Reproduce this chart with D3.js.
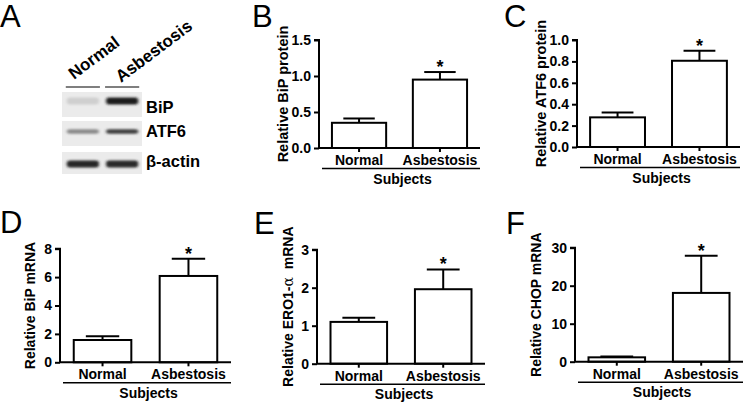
<!DOCTYPE html>
<html><head><meta charset="utf-8">
<script src="https://cdn.jsdelivr.net/npm/d3@7"></script>
<style>
html,body{margin:0;padding:0;background:#fff;}
svg{display:block;font-family:"Liberation Sans",Arial,sans-serif;}
</style></head>
<body>
<svg id="fig" width="745" height="407"></svg>
<script>
// ---- data ----
const groups = ["Normal", "Asbestosis"];
const xTitle = "Subjects";

const bipProtein = [0.35, 0.95];
const bipProteinErr = [0.06, 0.105];
const bipProteinTicks = [0, 0.5, 1.0, 1.5];

const atf6Protein = [0.277, 0.806];
const atf6ProteinErr = [0.045, 0.094];
const atf6ProteinTicks = [0, 0.2, 0.4, 0.6, 0.8, 1.0];

const bipMrna = [1.57, 6.08];
const bipMrnaErr = [0.26, 1.22];
const bipMrnaTicks = [0, 2, 4, 6, 8];

const ero1Mrna = [1.10, 1.96];
const ero1MrnaErr = [0.11, 0.52];
const ero1MrnaTicks = [0, 1, 2, 3];

const chopMrna = [1.15, 18.1];
const chopMrnaErr = [0.25, 9.8];
const chopMrnaTicks = [0, 10, 20, 30];

const significant = [false, true];

// western blot (band darkness per lane)
const blotRows = ["BiP", "ATF6", "β-actin"];
const bipBands = [0.13, 0.95];
const atf6Bands = [0.45, 0.8];
const actinBands = [0.92, 0.9];

const svg = d3.select("#fig");
const defs = svg.append("defs");
defs.append("filter").attr("id", "blur").attr("x", "-20%").attr("y", "-100%").attr("width", "140%").attr("height", "300%")
  .append("feGaussianBlur").attr("stdDeviation", "1.6 1.1");

// ---- panel letters ----
const letters = [["A", 0, 27], ["B", 252, 27], ["C", 504, 27], ["D", 0, 233], ["E", 254, 234], ["F", 506, 234]];
svg.selectAll("text.letter").data(letters).enter().append("text")
  .attr("class", "letter").attr("x", d => d[1]).attr("y", d => d[2])
  .attr("font-size", 31).attr("fill", "#000").text(d => d[0]);

// ---- bar panel ----
function barPanel(o) {
  const g = svg.append("g");
  const y = d3.scaleLinear().domain(o.domain).range([o.y0, o.yTop]);
  const x = d3.scaleBand().domain(groups).range([o.ax, o.xEnd]).paddingInner(0.33).paddingOuter(0.16);
  const bw = x.bandwidth();

  g.selectAll("rect.bar").data(groups).enter().append("rect")
    .attr("x", d => x(d)).attr("width", bw)
    .attr("y", (d, i) => y(o.values[i])).attr("height", (d, i) => o.y0 - y(o.values[i]))
    .attr("fill", "#fff").attr("stroke", "#000").attr("stroke-width", 2);

  const cap = bw * 0.58;
  groups.forEach((gname, i) => {
    const cx = x(gname) + bw / 2;
    g.append("line").attr("x1", cx).attr("x2", cx)
      .attr("y1", y(o.values[i])).attr("y2", y(o.values[i] + o.errs[i]))
      .attr("stroke", "#000").attr("stroke-width", 2);
    g.append("line").attr("x1", cx - cap / 2).attr("x2", cx + cap / 2)
      .attr("y1", y(o.values[i] + o.errs[i])).attr("y2", y(o.values[i] + o.errs[i]))
      .attr("stroke", "#000").attr("stroke-width", 2);
    if (significant[i]) {
      g.append("text").attr("x", cx).attr("y", y(o.values[i] + o.errs[i]) + 1)
        .attr("text-anchor", "middle").attr("font-size", 18).attr("font-weight", "bold").text("*");
    }
  });

  const yAxis = d3.axisLeft(y).tickValues(o.ticks).tickSize(5).tickPadding(3).tickFormat(d3.format(o.fmt));
  const ya = g.append("g").attr("transform", `translate(${o.ax},0)`).call(yAxis);
  ya.select(".domain").attr("stroke-width", 2).attr("d", `M-5,${y(o.domain[1])}H0V${o.y0}`);
  ya.selectAll(".tick line").attr("stroke-width", 2);
  ya.selectAll(".tick text").attr("font-size", 14).attr("font-weight", "bold").attr("font-family", "Liberation Sans, Arial, sans-serif");

  const xAxis = d3.axisBottom(x).tickSize(4).tickPadding(3);
  const xa = g.append("g").attr("transform", `translate(0,${o.y0})`).call(xAxis);
  xa.select(".domain").attr("stroke-width", 2).attr("d", `M${o.ax},0H${o.xEnd}`);
  xa.selectAll(".tick line").attr("stroke-width", 2);
  xa.selectAll(".tick text").attr("font-size", 14).attr("font-weight", "bold").attr("font-family", "Liberation Sans, Arial, sans-serif");

  g.append("line").attr("x1", o.ax + 3).attr("x2", o.xEnd).attr("y1", o.y0 + 20.5).attr("y2", o.y0 + 20.5)
    .attr("stroke", "#000").attr("stroke-width", 1.6);
  g.append("text").attr("x", (o.ax + o.xEnd) / 2 + 3).attr("y", o.y0 + 35.5)
    .attr("text-anchor", "middle").attr("font-size", 14).attr("font-weight", "bold").text(xTitle);

  const t = g.append("text")
    .attr("transform", `translate(${o.ax - o.titleOff},${(o.y0 + o.yTop) / 2}) rotate(-90)`)
    .attr("text-anchor", "middle").attr("font-size", o.titleSize || 14.5).attr("font-weight", "bold");
  o.title.forEach(part => {
    const ts = t.append("tspan").text(part.t);
    if (part.f) ts.attr("font-family", part.f).attr("font-weight", "normal");
  });
}

barPanel({ax: 319, xEnd: 480, y0: 148, yTop: 40, domain: [0, 1.5], ticks: bipProteinTicks, fmt: ".1f",
  values: bipProtein, errs: bipProteinErr, titleOff: 31, title: [{t: "Relative BiP protein"}]});
barPanel({ax: 577, xEnd: 740, y0: 147, yTop: 40, domain: [0, 1.0], ticks: atf6ProteinTicks, fmt: ".1f",
  values: atf6Protein, errs: atf6ProteinErr, titleOff: 31, title: [{t: "Relative ATF6 protein"}]});
barPanel({ax: 60, xEnd: 231, y0: 362.3, yTop: 248.7, domain: [0, 8], ticks: bipMrnaTicks, fmt: "d",
  values: bipMrna, errs: bipMrnaErr, titleOff: 25.5, titleSize: 14, title: [{t: "Relative BiP mRNA"}]});
barPanel({ax: 317, xEnd: 485, y0: 363.7, yTop: 249.7, domain: [0, 3], ticks: ero1MrnaTicks, fmt: "d",
  values: ero1Mrna, errs: ero1MrnaErr, titleOff: 24, titleSize: 14,
  title: [{t: "Relative ERO1-"}, {t: "α", f: "DejaVu Serif"}, {t: "\u00a0 mRNA"}]});
barPanel({ax: 575, xEnd: 743, y0: 361.7, yTop: 247.7, domain: [0, 30], ticks: chopMrnaTicks, fmt: "d",
  values: chopMrna, errs: chopMrnaErr, titleOff: 34, titleSize: 14, title: [{t: "Relative CHOP mRNA"}]});

// ---- western blot (panel A) ----
const lanes = d3.scaleBand().domain(groups).range([64, 141]).paddingInner(0.08).paddingOuter(0.02);
const strips = d3.scaleOrdinal().domain(blotRows).range([[92, 117], [121, 146], [152, 174]]);
const bandY = d3.scaleOrdinal().domain(blotRows).range([101, 131.5, 164]);
const bandH = d3.scaleOrdinal().domain(blotRows).range([7, 4.5, 7]);
const bandData = [bipBands, atf6Bands, actinBands];
const gb = svg.append("g");

blotRows.forEach((row, r) => {
  const s = strips(row);
  gb.append("rect").attr("x", 62).attr("y", s[0]).attr("width", 80).attr("height", s[1] - s[0]).attr("fill", "#ebebeb");
  groups.forEach((gname, i) => {
    const v = bandData[r][i];
    const shade = Math.round(235 - v * 215);
    gb.append("rect")
      .attr("x", lanes(gname) + 2).attr("width", lanes.bandwidth() - 4)
      .attr("y", bandY(row) - bandH(row) / 2).attr("height", bandH(row))
      .attr("rx", 3)
      .attr("fill", `rgb(${shade},${shade},${shade})`)
      .attr("filter", "url(#blur)");
  });
});
groups.forEach(gname => {
  gb.append("line").attr("x1", lanes(gname) + 1).attr("x2", lanes(gname) + lanes.bandwidth() - 1)
    .attr("y1", 87).attr("y2", 87).attr("stroke", "#555").attr("stroke-width", 1.3);
});
const laneLabelPos = [[74, 80], [121, 83]];
groups.forEach((gname, i) => {
  gb.append("text").attr("transform", `translate(${laneLabelPos[i][0]},${laneLabelPos[i][1]}) rotate(-37)`)
    .attr("font-size", 17).attr("font-weight", "bold").text(gname);
});
const rowBase = [113.3, 136.7, 166.7];
blotRows.forEach((row, r) => {
  gb.append("text").attr("x", 146).attr("y", rowBase[r]).attr("font-size", 16.5).attr("font-weight", "bold").text(row);
});
</script>
</body></html>
